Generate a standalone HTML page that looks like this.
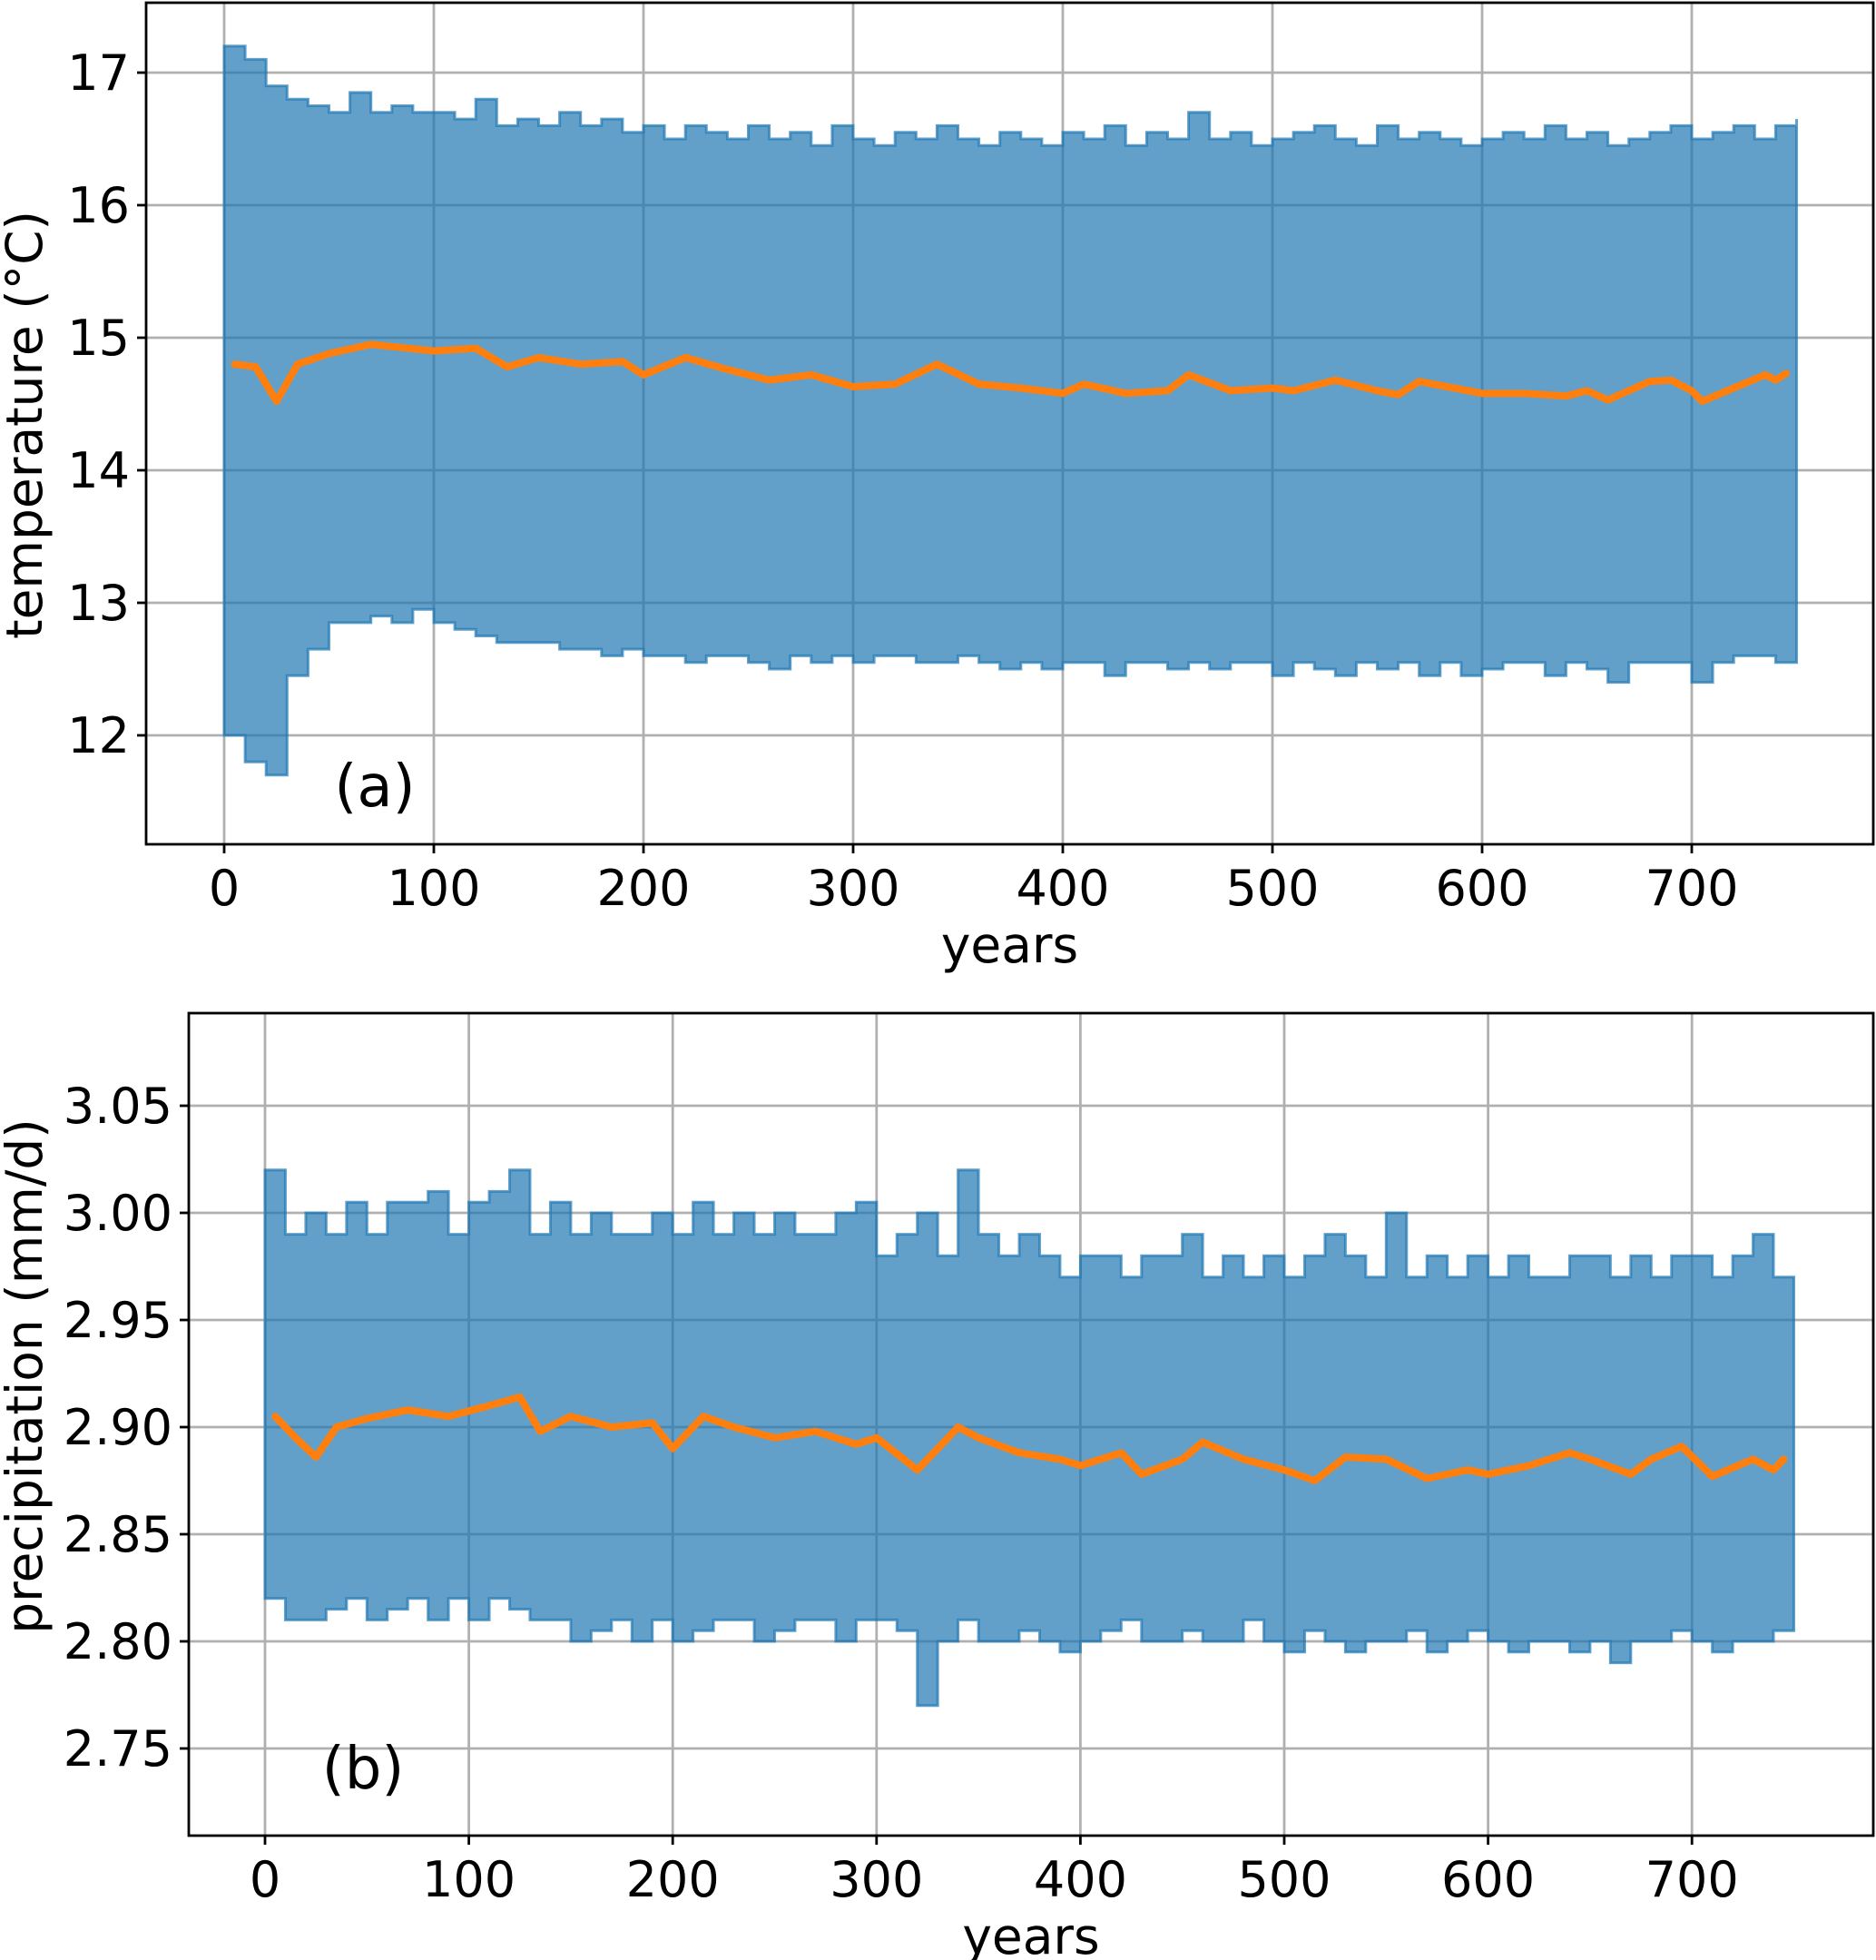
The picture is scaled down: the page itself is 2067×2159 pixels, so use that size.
<!DOCTYPE html>
<html><head><meta charset="utf-8"><style>
html,body{margin:0;padding:0;background:#fff;}
svg{display:block;font-family:"DejaVu Sans","Liberation Sans",sans-serif;}
</style></head><body>
<svg id="chart" width="2067" height="2159" viewBox="0 0 2067 2159" xmlns="http://www.w3.org/2000/svg"></svg>
<script>
// ---- data (decadal bins, years 0..750) ----
const binYears = Array.from({length:76},(_, i)=>i*10);
const tempUpper = [17.2,17.1,16.9,16.8,16.75,16.7,16.85,16.7,16.75,16.7,16.7,16.65,16.8,16.6,16.65,16.6,16.7,16.6,16.65,16.55,16.6,16.5,16.6,16.55,16.5,16.6,16.5,16.55,16.45,16.6,16.5,16.45,16.55,16.5,16.6,16.5,16.45,16.55,16.5,16.45,16.55,16.5,16.6,16.45,16.55,16.5,16.7,16.5,16.55,16.45,16.5,16.55,16.6,16.5,16.45,16.6,16.5,16.55,16.5,16.45,16.5,16.55,16.5,16.6,16.5,16.55,16.45,16.5,16.55,16.6,16.5,16.55,16.6,16.5,16.6,16.65];
const tempLower = [12.0,11.8,11.7,12.45,12.65,12.85,12.85,12.9,12.85,12.95,12.85,12.8,12.75,12.7,12.7,12.7,12.65,12.65,12.6,12.65,12.6,12.6,12.55,12.6,12.6,12.55,12.5,12.6,12.55,12.6,12.55,12.6,12.6,12.55,12.55,12.6,12.55,12.5,12.55,12.5,12.55,12.55,12.45,12.55,12.55,12.5,12.55,12.5,12.55,12.55,12.45,12.55,12.5,12.45,12.55,12.5,12.55,12.45,12.55,12.45,12.5,12.55,12.55,12.45,12.55,12.5,12.4,12.55,12.55,12.55,12.4,12.55,12.6,12.6,12.55,12.7];
const tempMAYears = [5,15,25,35,50,70,100,120,135,150,170,190,200,220,240,260,280,300,320,340,360,380,400,410,430,450,460,480,500,510,530,550,560,570,600,620,640,650,660,670,680,690,700,705,720,735,740,745];
const tempMA = [14.8,14.78,14.52,14.8,14.88,14.95,14.9,14.92,14.78,14.85,14.8,14.82,14.72,14.85,14.76,14.68,14.72,14.63,14.65,14.8,14.65,14.62,14.58,14.65,14.58,14.6,14.72,14.6,14.62,14.6,14.68,14.6,14.57,14.67,14.58,14.58,14.56,14.6,14.53,14.6,14.67,14.68,14.6,14.52,14.62,14.72,14.68,14.73];
const precUpper = [3.02,2.99,3.0,2.99,3.005,2.99,3.005,3.005,3.01,2.99,3.005,3.01,3.02,2.99,3.005,2.99,3.0,2.99,2.99,3.0,2.99,3.005,2.99,3.0,2.99,3.0,2.99,2.99,3.0,3.005,2.98,2.99,3.0,2.98,3.02,2.99,2.98,2.99,2.98,2.97,2.98,2.98,2.97,2.98,2.98,2.99,2.97,2.98,2.97,2.98,2.97,2.98,2.99,2.98,2.97,3.0,2.97,2.98,2.97,2.98,2.97,2.98,2.97,2.97,2.98,2.98,2.97,2.98,2.97,2.98,2.98,2.97,2.98,2.99,2.97,2.96];
const precLower = [2.82,2.81,2.81,2.815,2.82,2.81,2.815,2.82,2.81,2.82,2.81,2.82,2.815,2.81,2.81,2.8,2.805,2.81,2.8,2.81,2.8,2.805,2.81,2.81,2.8,2.805,2.81,2.81,2.8,2.81,2.81,2.805,2.77,2.8,2.81,2.8,2.8,2.805,2.8,2.795,2.8,2.805,2.81,2.8,2.8,2.805,2.8,2.8,2.81,2.8,2.795,2.805,2.8,2.795,2.8,2.8,2.805,2.795,2.8,2.805,2.8,2.795,2.8,2.8,2.795,2.8,2.79,2.8,2.8,2.805,2.8,2.795,2.8,2.8,2.805,2.83];
const precMAYears = [5,15,25,35,50,70,90,110,125,135,150,170,190,200,215,230,250,270,290,300,320,340,350,370,390,400,420,430,450,460,480,500,515,530,550,570,590,600,620,640,650,670,680,695,710,730,740,745];
const precMA = [2.905,2.895,2.886,2.9,2.904,2.908,2.905,2.91,2.914,2.898,2.905,2.9,2.902,2.89,2.905,2.9,2.895,2.898,2.892,2.895,2.88,2.9,2.895,2.888,2.885,2.882,2.888,2.878,2.885,2.893,2.885,2.88,2.875,2.886,2.885,2.876,2.88,2.878,2.882,2.888,2.885,2.878,2.885,2.891,2.877,2.885,2.88,2.885];
const xTicks = [0,100,200,300,400,500,600,700];
const tempTicks = [12,13,14,15,16,17];
const precTicks = [2.75,2.80,2.85,2.90,2.95,3.00,3.05];
const precTickLabels = ["2.75","2.80","2.85","2.90","2.95","3.00","3.05"];

const NS="http://www.w3.org/2000/svg";
const svg=document.getElementById('chart');
function mk(tag,attrs,parent){const e=document.createElementNS(NS,tag);for(const k in attrs)e.setAttribute(k,attrs[k]);(parent||svg).appendChild(e);return e;}

function panel(cfg){
  const g=mk('g',{});
  
  
  const X=v=>cfg.x0+v*cfg.xs;
  const Y=v=>cfg.y0-(v-cfg.v0)*cfg.ys;
  xTicks.forEach(t=>{const l=mk('line',{x1:X(t),x2:X(t),y1:cfg.top,y2:cfg.bottom,stroke:'#b0b0b0','stroke-width':2.8},g);
    });
  cfg.yt.forEach(t=>{const l=mk('line',{x1:cfg.left,x2:cfg.right,y1:Y(t),y2:Y(t),stroke:'#b0b0b0','stroke-width':2.8},g);
    });
  let d='M'+X(0)+','+Y(cfg.lo[0]);
  binYears.forEach((yr,i)=>{const e=Math.min(yr+10,750);d+=' L'+X(yr)+','+Y(cfg.up[i])+' L'+X(e)+','+Y(cfg.up[i]);});
  for(let i=binYears.length-1;i>=0;i--){const yr=binYears[i];const e=Math.min(yr+10,750);d+=' L'+X(e)+','+Y(cfg.lo[i])+' L'+X(yr)+','+Y(cfg.lo[i]);}
  d+=' Z';
  const band=mk('path',{d:d,fill:'#1f77b4','fill-opacity':0.7,stroke:'#1f77b4','stroke-opacity':0.7,'stroke-width':3},g);
  
  const pts=cfg.maY.map((yr,i)=>X(yr)+','+Y(cfg.ma[i])).join(' ');
  const ln=mk('polyline',{points:pts,fill:'none',stroke:'#ff7f0e','stroke-width':8,'stroke-linejoin':'round','stroke-linecap':'round'},g);
  
  const fr=mk('rect',{x:cfg.left,y:cfg.top,width:cfg.right-cfg.left,height:cfg.bottom-cfg.top,fill:'none',stroke:'#000','stroke-width':2.8},g);
  
  xTicks.forEach(t=>{mk('line',{x1:X(t),x2:X(t),y1:cfg.bottom,y2:cfg.bottom+10,stroke:'#000','stroke-width':2.8},g);
    const tx=mk('text',{x:X(t),y:cfg.bottom+67,'font-size':54,'text-anchor':'middle',fill:'#000'},g);tx.textContent=t;
    });
  cfg.yt.forEach((t,i)=>{mk('line',{x1:cfg.left-10,x2:cfg.left,y1:Y(t),y2:Y(t),stroke:'#000','stroke-width':2.8},g);
    const tx=mk('text',{x:cfg.left-18,y:Y(t)+19,'font-size':54,'text-anchor':'end',fill:'#000'},g);tx.textContent=cfg.ytl[i];
    });
  const xl=mk('text',{x:(cfg.left+cfg.right)/2,y:cfg.bottom+130,'font-size':55,'text-anchor':'middle',fill:'#000'},g);xl.textContent='years';
  
  const yl=mk('text',{x:0,y:0,'font-size':55,'text-anchor':'middle',fill:'#000',transform:'translate('+cfg.ylx+','+cfg.yly+') rotate(-90)'},g);yl.textContent=cfg.ylabel;
  
  const pl=mk('text',{x:cfg.plx,y:cfg.ply,'font-size':64,'text-anchor':'middle',fill:'#000'},g);pl.textContent=cfg.plabel;
  
}

panel({name:'temperature-panel',left:161,right:2064,top:3,bottom:930,x0:247,xs:2.31,y0:810,v0:12,ys:146,
  yt:tempTicks,ytl:tempTicks.map(String),up:tempUpper,lo:tempLower,maY:tempMAYears,ma:tempMA,
  ylabel:'temperature (°C)',ylx:46,yly:468,plabel:'(a)',plx:413,ply:888});
panel({name:'precipitation-panel',left:208,right:2064,top:1116,bottom:2022,x0:292,xs:2.246,y0:1926,v0:2.75,ys:2360,
  yt:precTicks,ytl:precTickLabels,up:precUpper,lo:precLower,maY:precMAYears,ma:precMA,
  ylabel:'precipitation (mm/d)',ylx:46,yly:1516,plabel:'(b)',plx:400,ply:1970});
</script>
</body></html>
